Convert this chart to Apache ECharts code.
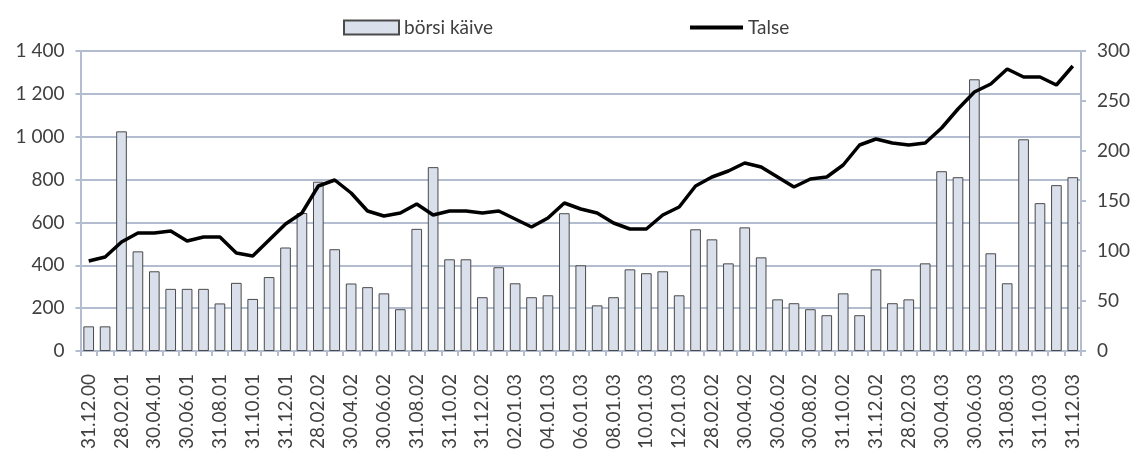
<!DOCTYPE html>
<html>
<head>
<meta charset="utf-8">
<script src="https://cdn.jsdelivr.net/npm/echarts@6/dist/echarts.min.js"></script>
<style>
html,body{margin:0;padding:0;background:#fff;}
#c{width:1136px;height:453px;}
</style>
</head>
<body>
<div id="c"></div>
<script>
const categories = [
  "31.12.00","31.01.01","28.02.01","31.03.01","30.04.01","31.05.01","30.06.01","31.07.01","31.08.01","30.09.01",
  "31.10.01","30.11.01","31.12.01","31.01.02","28.02.02","31.03.02","30.04.02","31.05.02","30.06.02","31.07.02",
  "31.08.02","30.09.02","31.10.02","30.11.02","31.12.02","01.01.03","02.01.03","03.01.03","04.01.03","05.01.03",
  "06.01.03","07.01.03","08.01.03","09.01.03","10.01.03","11.01.03","12.01.03","31.01.02","28.02.02","31.03.02",
  "30.04.02","31.05.02","30.06.02","31.07.02","30.08.02","30.09.02","31.10.02","30.11.02","31.12.02","31.01.03",
  "28.02.03","31.03.03","30.04.03","31.05.03","30.06.03","31.07.03","31.08.03","30.09.03","31.10.03","30.11.03",
  "31.12.03"
];
const borsiKaive = [
  115,115,1025,465,372,290,290,290,222,318,
  243,345,483,644,790,475,315,298,269,195,
  570,858,428,428,251,391,316,251,260,643,
  400,213,251,381,363,372,260,568,521,409,
  577,437,241,223,195,167,269,167,381,223,
  241,409,839,811,1268,456,316,988,690,774,
  811
];
const talse = [
  90,94,109,118,118,120,110,114,114,98,
  95,111,127,138,165,171,158,140,135,138,
  147,136,140,140,138,140,132,124,133,148,
  142,138,128,122,122,136,144,165,174,180,
  188,184,174,164,172,174,186,206,212,208,
  206,208,223,242,259,267,282,274,274,266,
  285
];
const leftTicks = {min:0, max:1400, interval:200};
const rightTicks = {min:0, max:300, interval:50};

const FONT = 'Lato';
const TXT = '#404040';
const AX = '#b4bcd0';

const chart = echarts.init(document.getElementById('c'), null, {renderer:'canvas'});
chart.setOption({
  animation:false,
  textStyle:{fontFamily:FONT},
  legend:[
    {data:[{name:'börsi käive', icon:'rect'}], left:338, top:13, itemWidth:55, itemHeight:14, itemGap:6,
     textStyle:{fontFamily:FONT, fontSize:19, color:TXT}},
    {data:[{name:'Talse', icon:'rect', itemStyle:{color:'#000', borderWidth:0}}], left:685, top:13, itemWidth:53, itemHeight:4, itemGap:7,
     textStyle:{fontFamily:FONT, fontSize:19, color:TXT}}
  ],
  grid:{left:80.5, right:55, top:51, bottom:102},
  xAxis:{
    type:'category', data:categories, boundaryGap:true,
    axisLine:{lineStyle:{color:AX, width:2}},
    axisTick:{show:true, interval:0, length:5, lineStyle:{color:AX, width:2}},
    axisLabel:{interval:1, rotate:90, margin:23, fontFamily:FONT, fontSize:19, color:TXT}
  },
  yAxis:[
    {type:'value', min:leftTicks.min, max:leftTicks.max, interval:leftTicks.interval, position:'left',
     axisLine:{show:true, lineStyle:{color:AX, width:2}},
     axisTick:{show:true, length:5, lineStyle:{color:AX, width:2}},
     splitLine:{show:true, lineStyle:{color:AX, width:2}},
     axisLabel:{margin:16, fontFamily:FONT, fontSize:19, color:TXT,
       formatter:v=>String(v).replace(/\B(?=(\d{3})+(?!\d))/g,' ')}},
    {type:'value', min:rightTicks.min, max:rightTicks.max, interval:rightTicks.interval, position:'right',
     axisLine:{show:true, lineStyle:{color:AX, width:2}},
     axisTick:{show:true, length:5, lineStyle:{color:AX, width:2}},
     splitLine:{show:false},
     axisLabel:{margin:16, fontFamily:FONT, fontSize:19, color:TXT}}
  ],
  series:[
    {name:'börsi käive', type:'bar', yAxisIndex:0, data:borsiKaive, barCategoryGap:'35%',
     itemStyle:{color:'#d9dfeb', borderColor:'#4a4a4a', borderWidth:1}},
    {name:'Talse', type:'line', yAxisIndex:1, data:talse, symbol:'none',
     lineStyle:{color:'#000', width:3.5}, itemStyle:{color:'#000'}}
  ]
});
</script>
</body>
</html>
